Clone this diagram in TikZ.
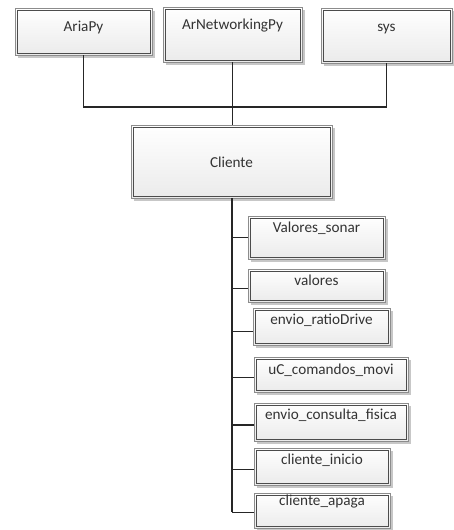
\documentclass[tikz,border=0pt]{standalone}
\usepackage{fontspec}
\setmainfont{Carlito}
\begin{document}
\begin{tikzpicture}[x=1pt,y=-1pt,
  box/.style={draw=black!45, line width=0.7pt, top color=white, bottom color=black!8, inner sep=0pt, outer sep=0pt},
  innerline/.style={draw=black!70, line width=0.6pt},
  shade/.style={fill=black!22},
  lbl/.style={inner sep=0pt, text=black!80, font=\fontsize{15.2}{18}\selectfont},
  conn/.style={draw=black!85, line width=1.7pt}]
\useasboundingbox (0,0) rectangle (454,530);
\newcommand\mybx[7]{%
  \fill[shade] (#2+2.5,#3+2.5) rectangle (#4+2.5,#5+2.5);
  \node[box, minimum width={(#4-#2)*1pt}, minimum height={(#5-#3)*1pt}] (#1) at ({(#2+#4)/2},{(#3+#5)/2}) {};
  \draw[innerline] ([xshift=2pt,yshift=-2pt]#1.north west) rectangle ([xshift=-2pt,yshift=2pt]#1.south east);
  \node[lbl] (#1t) at ([yshift=-#7pt]#1.north) {#6};
}
\mybx{aria}{15}{8}{152}{55}{AriaPy}{19}
\mybx{arnet}{163}{7}{302}{62}{ArNetworkingPy}{19}
\mybx{sys}{321}{8}{452}{63}{sys}{21}
\mybx{cliente}{131}{125}{332}{198}{Cliente}{37}
\mybx{vs}{248}{216}{385}{259}{Valores\_sonar}{12}
\mybx{val}{248}{269}{385}{302}{valores}{11}
\mybx{erd}{253}{308}{390}{345}{envio\_ratioDrive}{12}
\mybx{uc}{254}{357}{408}{392}{uC\_comandos\_movi}{13}
\mybx{ecf}{254}{403}{408}{441}{envio\_consulta\_fisica}{12}
\mybx{ci}{254}{448}{390}{485}{cliente\_inicio}{12}
\mybx{ca}{254}{493}{390}{528}{cliente\_apaga}{9}
% top connectors
\coordinate (bus) at (232,107);
\draw[conn] (aria.south) |- (bus) -| (sys.south);
\draw[conn] (arnet.south) -- (arnet.south |- cliente.north);
% trunk
\coordinate (trunkend) at (232,512);
\draw[conn] (cliente.south -| trunkend) -- (trunkend);
\foreach \n/\dy in {vs/0, val/3, erd/5, uc/3, ecf/3, ci/3, ca/2}{
  \draw[conn] ([yshift=-\dy pt]\n.west -| trunkend) -- ([yshift=-\dy pt]\n.west);
}
\end{tikzpicture}
\end{document}
